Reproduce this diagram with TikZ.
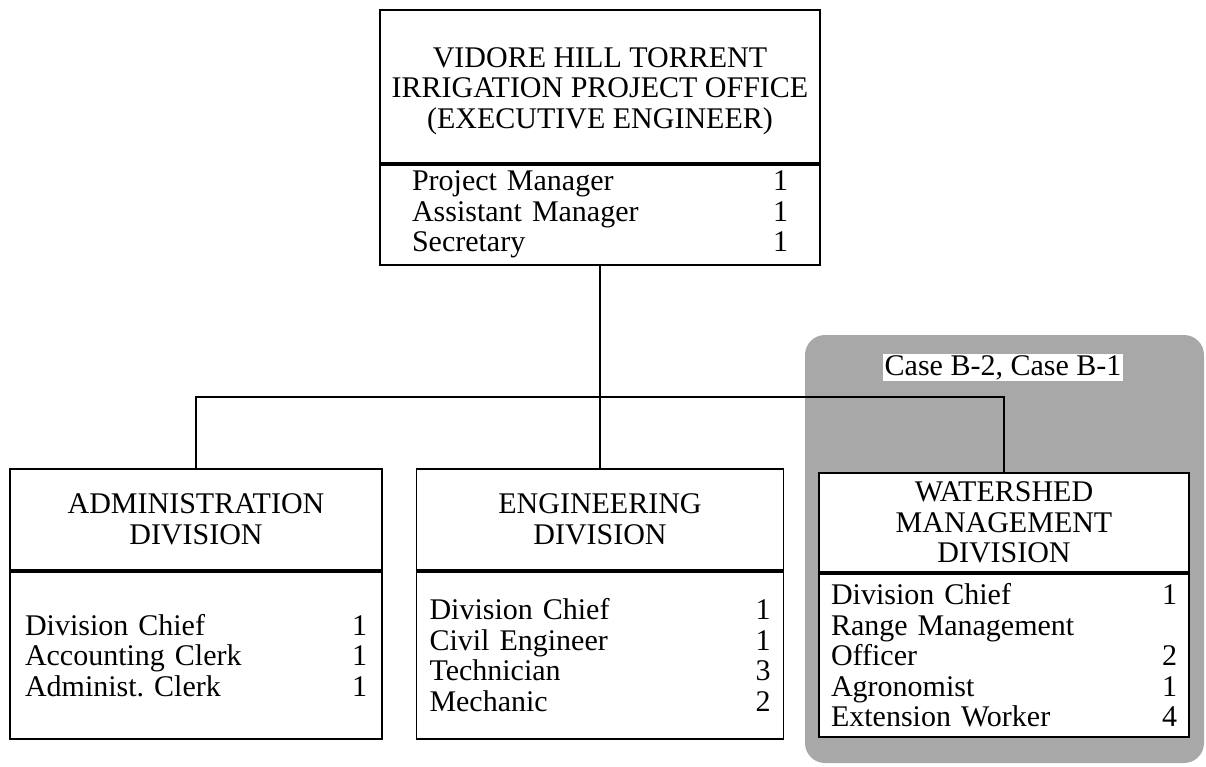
\documentclass[tikz,border=0pt]{standalone}
\usepackage{fontspec}
\setmainfont{Liberation Serif}
\usetikzlibrary{positioning}
\frenchspacing

\newcommand{\post}[2]{#1\hfill #2\\}

\tikzset{
  unitbox/.style={draw, fill=white, line width=1.8pt, inner sep=0pt},
  headbox/.style={unitbox, align=center},
  staffbox/.style={unitbox, anchor=north},
  link/.style={line width=1.8pt},
}

\begin{document}
\begin{tikzpicture}[x=1pt,y=-1pt,font=\fontsize{30}{30.5}\selectfont]
\useasboundingbox (0,0) rectangle (1206,766);

%shaded case area
\fill[black!34, rounded corners=20pt] (805,335) rectangle (1204,763);
\node[fill=white, inner sep=1.5pt] (case) at (1003,367.5) {Case B-2, Case B-1};

%project office
\node[headbox, minimum width=440pt, minimum height=153pt] (office) at (600,86.5)
  {\rule{0pt}{29pt}VIDORE HILL TORRENT\\IRRIGATION PROJECT OFFICE\\(EXECUTIVE ENGINEER)};
\node[staffbox, minimum width=440pt, minimum height=100pt, text width=376pt, inner xsep=32pt] (office-staff) at (office.south)
  {\post{Project Manager}{1}\post{Assistant Manager}{1}\post{Secretary}{1}};

%administration
\node[headbox, minimum width=372pt, minimum height=101pt] (admin) at (196,519.5)
  {ADMINISTRATION\\DIVISION};
\node[staffbox, minimum width=372pt, minimum height=167pt, text width=342pt, inner xsep=15pt] (admin-staff) at (admin.south)
  {\post{Division Chief}{1}\post{Accounting Clerk}{1}\post{Administ. Clerk}{1}};

%engineering
\node[headbox, minimum width=367pt, minimum height=101pt] (engineering) at (600,519.5)
  {ENGINEERING\\DIVISION};
\node[staffbox, minimum width=367pt, minimum height=167pt, text width=341pt, inner xsep=13pt] (engineering-staff) at (engineering.south)
  {\post{Division Chief}{1}\post{Civil Engineer}{1}\post{Technician}{3}\post{Mechanic}{2}};

%watershed
\node[headbox, minimum width=370pt, minimum height=99pt] (watershed) at (1004,522.5)
  {WATERSHED\\MANAGEMENT\\DIVISION};
\node[staffbox, minimum width=370pt, minimum height=163pt, text width=346pt, inner xsep=12pt] (watershed-staff) at (watershed.south)
  {\post{Division Chief}{1}Range Management\\\post{Officer}{2}\post{Agronomist}{1}\post{Extension Worker}{4}};

%connectors
\coordinate (bus) at (600,397);
\draw[link] (office-staff.south) -- (bus);
\draw[link] (admin.north) |- (bus) -| (watershed.north);
\draw[link] (bus) -- (engineering.north);
\end{tikzpicture}
\end{document}
